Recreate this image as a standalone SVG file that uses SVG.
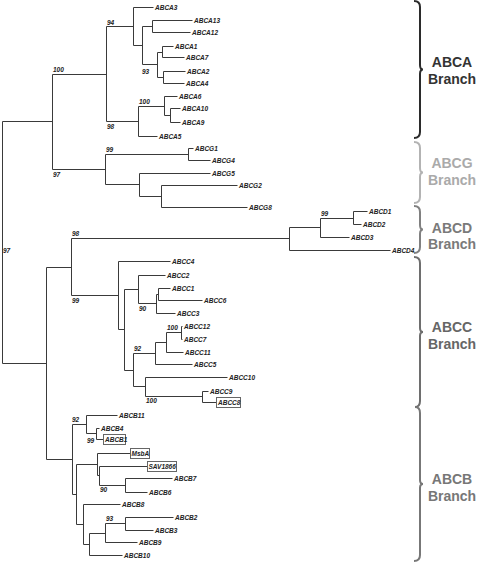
<svg xmlns="http://www.w3.org/2000/svg" width="477" height="565" viewBox="0 0 477 565">
<style>
.c path{fill:none;stroke:#3a3a3a;stroke-width:1}
.l,.s{font-family:"Liberation Sans",Arial,sans-serif;font-size:6.5px;font-weight:bold;font-style:italic;fill:#222}
.bx{fill:none;stroke:#666;stroke-width:1}
.br{font-family:"Liberation Sans",Arial,sans-serif;font-size:14px;font-weight:bold;text-anchor:middle}
.brace{fill:none;stroke-width:2}
</style>
<rect width="477" height="565" fill="#fff"/>
<g id="connectors" class="c" transform="translate(0.5,0.5)">
<path d="M2 121V363M2 121H52M2 363H46"/>
<path d="M52 74V169M52 74H106M52 169H105"/>
<path d="M106 26V121M106 26H133M106 121H138"/>
<path d="M133 7V45M133 7H153M133 45H142"/>
<path d="M142 26V64M142 26H152M142 64H157"/>
<path d="M152 20V32M152 20H192M152 32H190"/>
<path d="M157 52V77M157 52H162M157 77H163"/>
<path d="M162 46V57M162 46H173M162 57H184"/>
<path d="M163 71V83M163 71H185M163 83H184"/>
<path d="M138 106V136M138 106H164M138 136H157"/>
<path d="M164 96V115M164 96H177M164 115H170"/>
<path d="M170 108V122M170 108H180M170 122H180"/>
<path d="M105 154V184M105 154H188M105 184H139"/>
<path d="M188 148V160M188 148H193M188 160H210"/>
<path d="M139 173V196M139 173H210M139 196H161"/>
<path d="M161 185V207M161 185H237M161 207H247"/>
<path d="M46 267V459M46 267H71M46 459H72"/>
<path d="M71 238V295M71 238H289M71 295H118"/>
<path d="M289 227V250M289 227H320M289 250H390"/>
<path d="M320 218V237M320 218H353M320 237H349"/>
<path d="M353 211V224M353 211H367M353 224H361"/>
<path d="M118 261V329M118 261H170M118 329H124"/>
<path d="M124 289V370M124 289H138M124 370H133"/>
<path d="M138 275V303M138 275H165M138 303H156"/>
<path d="M156 294V313M156 294H158M156 313H175"/>
<path d="M158 288V300M158 288H170M158 300H202"/>
<path d="M133 353V386M133 353H155M133 386H145"/>
<path d="M155 342V364M155 342H166M155 364H192"/>
<path d="M166 332V352M166 332H181M166 352H183"/>
<path d="M181 326V339M181 326H182M181 339H182"/>
<path d="M145 377V396M145 377H227M145 396H202"/>
<path d="M202 391V402M202 391H208M202 402H216"/>
<path d="M72 424V494M72 424H86M72 494H76"/>
<path d="M86 415V433M86 415H117M86 433H96"/>
<path d="M96 428V439M96 428H99M96 439H103"/>
<path d="M76 464V524M76 464H97M76 524H83"/>
<path d="M97 453V475M97 453H130M97 475H99"/>
<path d="M99 466V485M99 466H147M99 485H125"/>
<path d="M125 478V492M125 478H172M125 492H147"/>
<path d="M83 504V544M83 504H120M83 544H89"/>
<path d="M89 533V555M89 533H105M89 555H122"/>
<path d="M105 523V542M105 523H125M105 542H137"/>
<path d="M125 517V530M125 517H173M125 530H153"/>
</g>
<g id="support">
<text class="s" x="53" y="72">100</text>
<text class="s" x="107" y="24.5">94</text>
<text class="s" x="142" y="74">93</text>
<text class="s" x="139" y="104">100</text>
<text class="s" x="107" y="129">98</text>
<text class="s" x="53" y="177">97</text>
<text class="s" x="106" y="152">99</text>
<text class="s" x="3" y="253">97</text>
<text class="s" x="72" y="236">98</text>
<text class="s" x="321" y="216">99</text>
<text class="s" x="72" y="303">99</text>
<text class="s" x="139" y="311">90</text>
<text class="s" x="134" y="351">92</text>
<text class="s" x="167" y="330">100</text>
<text class="s" x="146" y="403">100</text>
<text class="s" x="72" y="422">92</text>
<text class="s" x="87" y="443">99</text>
<text class="s" x="100" y="492">90</text>
<text class="s" x="106" y="521">93</text>
</g>
<g id="ABCA3"><text class="l" x="155" y="10">ABCA3</text></g>
<g id="ABCA13"><text class="l" x="194" y="23">ABCA13</text></g>
<g id="ABCA12"><text class="l" x="192" y="35">ABCA12</text></g>
<g id="ABCA1"><text class="l" x="175" y="49">ABCA1</text></g>
<g id="ABCA7"><text class="l" x="186" y="60">ABCA7</text></g>
<g id="ABCA2"><text class="l" x="187" y="74">ABCA2</text></g>
<g id="ABCA4"><text class="l" x="186" y="86">ABCA4</text></g>
<g id="ABCA6"><text class="l" x="179" y="99">ABCA6</text></g>
<g id="ABCA10"><text class="l" x="182" y="111">ABCA10</text></g>
<g id="ABCA9"><text class="l" x="182" y="125">ABCA9</text></g>
<g id="ABCA5"><text class="l" x="159" y="139">ABCA5</text></g>
<g id="ABCG1"><text class="l" x="195" y="151">ABCG1</text></g>
<g id="ABCG4"><text class="l" x="212" y="163">ABCG4</text></g>
<g id="ABCG5"><text class="l" x="212" y="176">ABCG5</text></g>
<g id="ABCG2"><text class="l" x="239" y="188">ABCG2</text></g>
<g id="ABCG8"><text class="l" x="249" y="210">ABCG8</text></g>
<g id="ABCD1"><text class="l" x="369" y="214">ABCD1</text></g>
<g id="ABCD2"><text class="l" x="363" y="227">ABCD2</text></g>
<g id="ABCD3"><text class="l" x="351" y="240">ABCD3</text></g>
<g id="ABCD4"><text class="l" x="392" y="253">ABCD4</text></g>
<g id="ABCC4"><text class="l" x="172" y="264">ABCC4</text></g>
<g id="ABCC2"><text class="l" x="167" y="278">ABCC2</text></g>
<g id="ABCC1"><text class="l" x="172" y="291">ABCC1</text></g>
<g id="ABCC6"><text class="l" x="204" y="303">ABCC6</text></g>
<g id="ABCC3"><text class="l" x="177" y="316">ABCC3</text></g>
<g id="ABCC12"><text class="l" x="184" y="329">ABCC12</text></g>
<g id="ABCC7"><text class="l" x="184" y="342">ABCC7</text></g>
<g id="ABCC11"><text class="l" x="185" y="355">ABCC11</text></g>
<g id="ABCC5"><text class="l" x="194" y="367">ABCC5</text></g>
<g id="ABCC10"><text class="l" x="229" y="380">ABCC10</text></g>
<g id="ABCC9"><text class="l" x="210" y="394">ABCC9</text></g>
<g id="ABCC8"><rect class="bx" x="216.5" y="397.5" width="24" height="10"/><text class="l" x="218" y="405">ABCC8</text></g>
<g id="ABCB11"><text class="l" x="119" y="418">ABCB11</text></g>
<g id="ABCB4"><text class="l" x="101" y="431">ABCB4</text></g>
<g id="ABCB1"><rect class="bx" x="103.5" y="434.5" width="22" height="10"/><text class="l" x="105" y="442">ABCB1</text></g>
<g id="MsbA"><rect class="bx" x="130.5" y="448.5" width="19" height="10"/><text class="l" x="131.5" y="456">MsbA</text></g>
<g id="SAV1866"><rect class="bx" x="147.5" y="461.5" width="29" height="10"/><text class="l" x="148.5" y="469">SAV1866</text></g>
<g id="ABCB7"><text class="l" x="174" y="481">ABCB7</text></g>
<g id="ABCB6"><text class="l" x="149" y="495">ABCB6</text></g>
<g id="ABCB8"><text class="l" x="122" y="507">ABCB8</text></g>
<g id="ABCB2"><text class="l" x="175" y="520">ABCB2</text></g>
<g id="ABCB3"><text class="l" x="155" y="533">ABCB3</text></g>
<g id="ABCB9"><text class="l" x="139" y="545">ABCB9</text></g>
<g id="ABCB10"><text class="l" x="124" y="558">ABCB10</text></g>
<g id="branch-ABCA">
<path class="brace" stroke="#2b2b2b" d="M414 1Q420 1 420 7V65Q420 69.5 423 69.5Q420 69.5 420 74V132Q420 138 414 138"/>
<text class="br" fill="#333" x="452" y="67">ABCA</text><text class="br" fill="#333" x="452" y="84">Branch</text>
</g>
<g id="branch-ABCG">
<path class="brace" stroke="#b3b3b3" d="M414 142Q420 142 420 148V168Q420 172.5 423 172.5Q420 172.5 420 177V197Q420 203 414 203"/>
<text class="br" fill="#aaa" x="452" y="168">ABCG</text><text class="br" fill="#aaa" x="452" y="185">Branch</text>
</g>
<g id="branch-ABCD">
<path class="brace" stroke="#808080" d="M414 206Q420 206 420 212V225Q420 229.5 423 229.5Q420 229.5 420 234V247Q420 253 414 253"/>
<text class="br" fill="#7a7a7a" x="452" y="233">ABCD</text><text class="br" fill="#7a7a7a" x="452" y="249">Branch</text>
</g>
<g id="branch-ABCC">
<path class="brace" stroke="#6e6e6e" d="M414 257Q420 257 420 263V328Q420 332 423 332Q420 332 420 336V401Q420 407 415 407"/>
<text class="br" fill="#666" x="452" y="332">ABCC</text><text class="br" fill="#666" x="452" y="349">Branch</text>
</g>
<g id="branch-ABCB">
<path class="brace" stroke="#777" d="M415 407Q420 407 420 413V480Q420 484 423 484Q420 484 420 488V555Q420 561 414 561"/>
<text class="br" fill="#777" x="452" y="484">ABCB</text><text class="br" fill="#777" x="452" y="501">Branch</text>
</g>
</svg>
